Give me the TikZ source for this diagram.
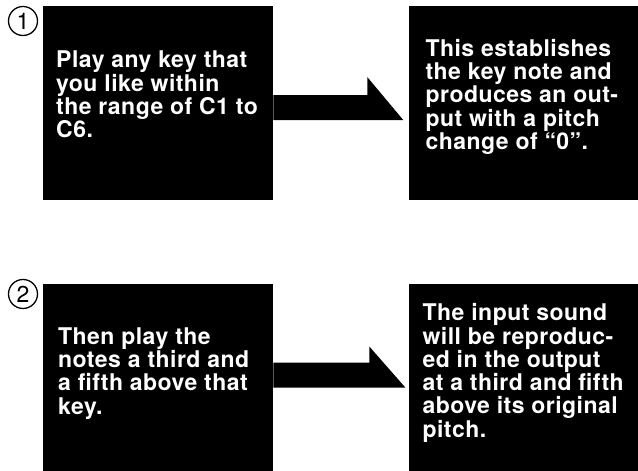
\documentclass[tikz,border=0pt]{standalone}
\usepackage{fontspec}
\usepackage{tikz}
\usetikzlibrary{positioning,calc}
\newfontfamily\heros{TeX Gyre Heros}[LetterSpace=2.0]
\newfontfamily\herosnum{TeX Gyre Heros}
\newcommand{\panelfont}{\heros\bfseries\fontsize{23}{23.3}\selectfont}
\newcommand{\numfont}{\herosnum\fontsize{23}{23}\selectfont}

\begin{document}
\begin{tikzpicture}[x=1pt,y=1pt,node distance=135pt]
\tikzstyle{panel}=[fill=black,minimum width=230pt,minimum height=194pt,inner sep=0pt]
\tikzstyle{paneltext}=[text=white,align=left,inner sep=0pt,font=\panelfont]
\tikzstyle{stepnum}=[draw,circle,line width=1.3pt,minimum size=29pt,inner sep=0pt,font=\numfont]
\useasboundingbox (0,0) rectangle (638,471);
% step 1
\node[stepnum] (one) at (23,450) {1};
\node[panel,anchor=north west] (play) at (43,465) {};
\node[panel,right=of play] (hear) {};
\node[paneltext,below right=45pt and 13pt of play.north west] (playtext) {Play any key that\\you like within\\the range of C1 to\\C6.};
\node[paneltext,below right=33pt and 17pt of hear.north west] (heartext) {This establishes\\the key note and\\produces an out-\\put with a pitch\\change of “0”.};
% step 2
\node[stepnum] (two) at (23,177) {2};
\node[panel,minimum height=188pt,below=83pt of play] (then) {};
\node[panel,minimum height=188pt,right=of then] (result) {};
\node[paneltext,below right=44pt and 15pt of then.north west] (thentext) {Then play the\\notes a third and\\a fifth above that\\key.};
\node[paneltext,below right=20pt and 14pt of result.north west] (resulttext) {The input sound\\will be reproduc-\\ed in the output\\at a third and fifth\\above its original\\pitch.};
% half arrows
\foreach \a/\b/\lo/\hi/\tip in {play/hear/-17/26/5,then/result/-10/31/3}{\fill ($(\a.east)+(0,\lo)$) -- ++(0,25) -| ($(\b.west)+(-36-\tip,\hi)$) -- ($(\b.west)+(-\tip,\lo)$) -- cycle;}
\end{tikzpicture}
\end{document}
